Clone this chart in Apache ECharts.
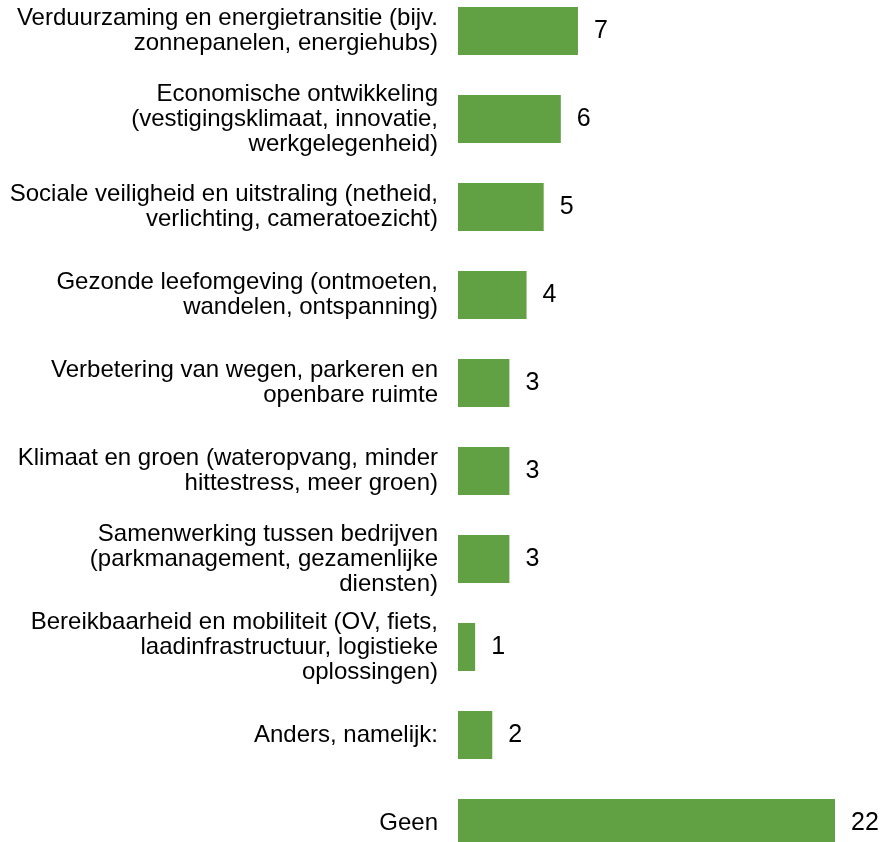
<!DOCTYPE html>
<html>
<head>
<meta charset="utf-8">
<script src="https://cdn.jsdelivr.net/npm/echarts@6/dist/echarts.min.js"></script>
<style>
  html, body { margin: 0; padding: 0; background: #fff; overflow: hidden; width: 883px; height: 842px; }
  /* the plot runs past the top and bottom edge, as in the source */
  #chart { position: absolute; left: 0; top: -13px; width: 883px; height: 880px; }
</style>
</head>
<body>
<div id="chart"></div>
<script>
// categories, top to bottom
const categories = [
  'Verduurzaming en energietransitie (bijv.\nzonnepanelen, energiehubs)',
  'Economische ontwikkeling\n(vestigingsklimaat, innovatie,\nwerkgelegenheid)',
  'Sociale veiligheid en uitstraling (netheid,\nverlichting, cameratoezicht)',
  'Gezonde leefomgeving (ontmoeten,\nwandelen, ontspanning)',
  'Verbetering van wegen, parkeren en\nopenbare ruimte',
  'Klimaat en groen (wateropvang, minder\nhittestress, meer groen)',
  'Samenwerking tussen bedrijven\n(parkmanagement, gezamenlijke\ndiensten)',
  'Bereikbaarheid en mobiliteit (OV, fiets,\nlaadinfrastructuur, logistieke\noplossingen)',
  'Anders, namelijk:',
  'Geen'
]
const counts = [7, 6, 5, 4, 3, 3, 3, 1, 2, 22]

const chart = echarts.init(document.getElementById('chart'))

chart.setOption({
  animation: false,
  textStyle: { fontFamily: 'Liberation Sans, Arial, sans-serif' },
  grid: {
    left: 458,
    right: 48,
    top: 0,
    bottom: 0
  },
  xAxis: {
    type: 'value',
    min: 0,
    max: 22,
    show: false
  },
  yAxis: {
    type: 'category',
    inverse: true,
    data: categories,
    axisLine: { show: false },
    axisTick: { show: false },
    splitLine: { show: false },
    axisLabel: {
      margin: 20,
      color: '#000',
      fontSize: 24,
      lineHeight: 25,
      align: 'right'
    }
  },
  series: [
    {
      type: 'bar',
      data: counts,
      barWidth: 48,
      itemStyle: { color: '#62a044' },
      label: {
        show: true,
        position: 'right',
        distance: 16,
        color: '#000',
        fontSize: 25
      }
    }
  ]
})
</script>
</body>
</html>
